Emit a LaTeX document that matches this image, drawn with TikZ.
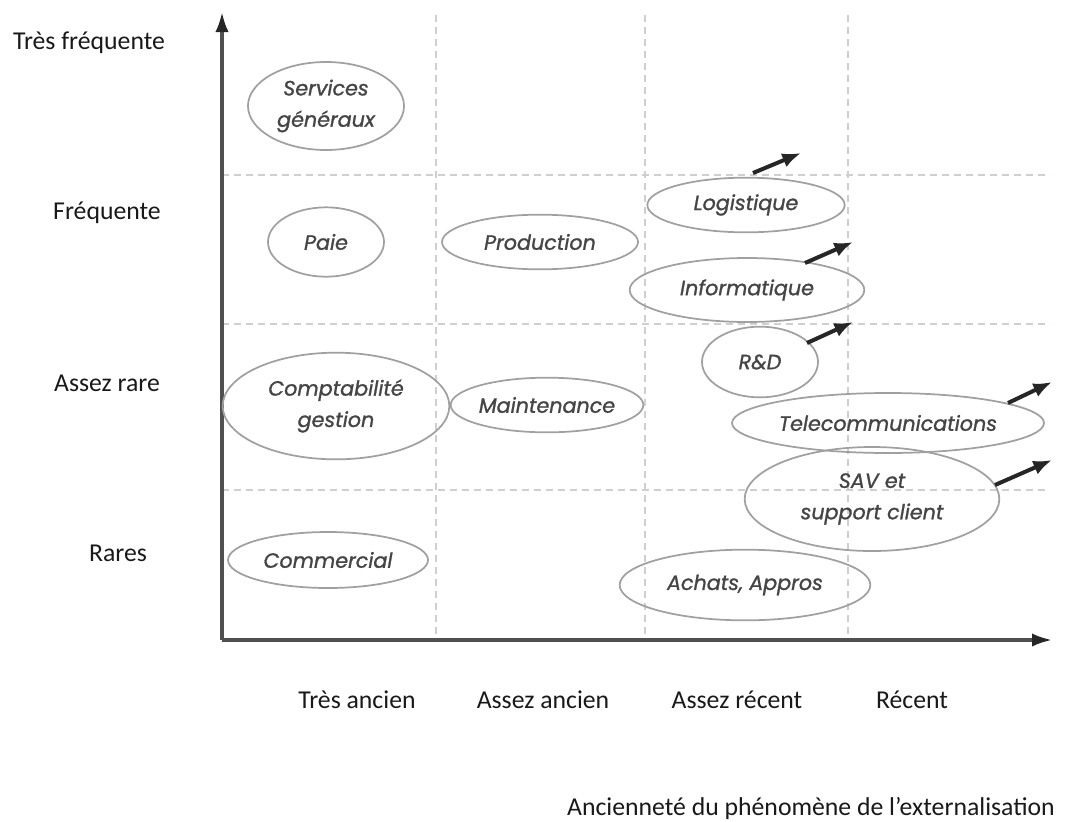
\documentclass[tikz,border=0pt]{standalone}
\usepackage{fontspec}
\setmainfont{Carlito}
\newfontfamily\elfont{Poppins}[ItalicFeatures={FakeBold=1.2}]
\usetikzlibrary{shapes.geometric,arrows.meta}
\definecolor{axisgray}{HTML}{505050}
\definecolor{gridgray}{HTML}{CFCFCF}
\definecolor{elgray}{HTML}{A0A0A0}
\definecolor{eltext}{HTML}{454545}
\tikzset{
  grid line/.style={gridgray, line width=1pt, dash pattern=on 5pt off 4pt},
  axis line/.style={axisgray, line width=2.4pt, -{Latex[length=15pt,width=10pt,color=black!85]}},
  areabox/.style={ellipse, draw=elgray, line width=1.3pt, inner sep=0pt,
     text=eltext, font=\elfont\itshape\fontsize{15.5}{23.5}\selectfont, align=center},
  trend/.style={black!85, line width=3pt, -{Latex[length=14pt,width=11pt]}},
  axlabel/.style={font=\fontsize{19.3}{22}\selectfont, text=black!90, inner sep=0pt}
}
\begin{document}
\begin{tikzpicture}[x=0.75pt,y=-0.75pt]
\useasboundingbox (0,0) rectangle (1066,821);
% grid
\coordinate (g1t) at (436,15); \coordinate (g1b) at (436,640);
\coordinate (g2t) at (645,15); \coordinate (g2b) at (645,640);
\coordinate (g3t) at (848,15); \coordinate (g3b) at (848,640);
\coordinate (h1l) at (222,175); \coordinate (h1r) at (1050,175);
\coordinate (h2l) at (222,324); \coordinate (h2r) at (1050,324);
\coordinate (h3l) at (222,490); \coordinate (h3r) at (1050,490);
\draw[grid line] (g1t) -- (g1b);
\draw[grid line] (g2t) -- (g2b);
\draw[grid line] (g3t) -- (g3b);
\draw[grid line] (h1l) -- (h1r);
\draw[grid line] (h2l) -- (h2r);
\draw[grid line] (h3l) -- (h3r);
% axes
\coordinate (O) at (222,640);
\coordinate (ytop) at (222,12);
\coordinate (xend) at (1052,640);
\draw[axis line] (O) -- (ytop);
\draw[axis line] (O) -- (xend);
% ellipses
\node[areabox, minimum width=117pt, minimum height=66pt] (serv) at (326,106) {Services\\généraux};
\node[areabox, minimum width=87pt, minimum height=52pt] (paie) at (326,242) {Paie};
\node[areabox, minimum width=147pt, minimum height=41pt] (prod) at (540,242) {Production};
\node[areabox, minimum width=148pt, minimum height=41pt] (logi) at (746,205) {Logistique};
\node[areabox, minimum width=176pt, minimum height=48pt] (info) at (747,290) {Informatique};
\node[areabox, minimum width=87pt, minimum height=53pt] (rd) at (760,362) {R\&D};
\node[areabox, minimum width=234pt, minimum height=45pt] (tele) at (888,423) {Telecommunications};
\node[areabox, minimum width=191pt, minimum height=78pt] (sav) at (872,499) {SAV et\\support client};
\node[areabox, minimum width=188pt, minimum height=53pt] (achat) at (745,585) {Achats, Appros};
\node[areabox, minimum width=170pt, minimum height=80pt] (compta) at (336,406) {Comptabilité\\gestion};
\node[areabox, minimum width=143pt, minimum height=41pt] (maint) at (547,405) {Maintenance};
\node[areabox, minimum width=150pt, minimum height=42pt] (comm) at (328,560) {Commercial};
% trend arrows
\coordinate (la) at (753,173); \coordinate (lb) at (801,153);
\coordinate (ia) at (805,263); \coordinate (ib) at (853,242);
\coordinate (ra) at (807,343); \coordinate (rb) at (853,322);
\coordinate (ta) at (1008,403); \coordinate (tb) at (1052,382);
\coordinate (sa) at (995,485); \coordinate (sb) at (1052,460);
\draw[trend] (la) -- (lb);
\draw[trend] (ia) -- (ib);
\draw[trend] (ra) -- (rb);
\draw[trend] (ta) -- (tb);
\draw[trend] (sa) -- (sb);
% axis labels
\node[axlabel] (y1) at (89,43) {Très fréquente};
\node[axlabel] (y2) at (107,213) {Fréquente};
\node[axlabel] (y3) at (107,383) {Assez rare};
\node[axlabel] (y4) at (118,553) {Rares};
\node[axlabel] (x1) at (357,700) {Très ancien};
\node[axlabel] (x2) at (543,700) {Assez ancien};
\node[axlabel] (x3) at (737,700) {Assez récent};
\node[axlabel] (x4) at (912,700) {Récent};
\node[axlabel, anchor=east] (xt) at (1055,808) {Ancienneté du phénomène de l’externalisation};
\end{tikzpicture}
\end{document}
